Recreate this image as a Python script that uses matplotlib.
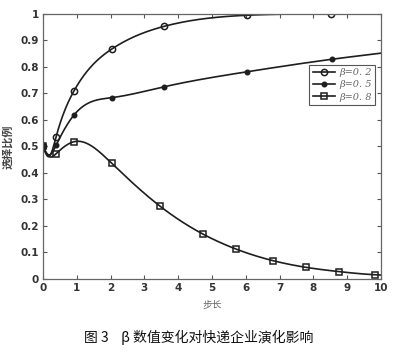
import numpy as np
import matplotlib
matplotlib.use("Agg")
import matplotlib.pyplot as plt
from matplotlib.lines import Line2D

plt.rcParams['font.family'] = ['Noto Sans CJK SC', 'DejaVu Sans']

# curve points (line), and marker positions
x02 = [0, 0.18, 0.39, 0.92, 2.03, 3.58, 6.03, 8.53, 10]
y02 = [0.5, 0.462, 0.537, 0.71, 0.867, 0.953, 0.995, 1.0, 1.0]

x05 = [0, 0.18, 0.39, 0.92, 2.03, 3.58, 6.05, 8.55, 10]
y05 = [0.5, 0.468, 0.505, 0.619, 0.684, 0.725, 0.782, 0.829, 0.852]

x08 = [0, 0.18, 0.39, 0.92, 2.03, 3.46, 4.74, 5.71, 6.81, 7.78, 8.75, 9.83, 10]
y08 = [0.5, 0.462, 0.473, 0.518, 0.437, 0.275, 0.169, 0.113, 0.069, 0.044, 0.028, 0.016, 0.015]

labels = ['β=0. 2', 'β=0. 5', 'β=0. 8']
xticks = list(range(0, 11))
yticks = [0, 0.1, 0.2, 0.3, 0.4, 0.5, 0.6, 0.7, 0.8, 0.9, 1.0]
ytick_labels = ['0', '0.1', '0.2', '0.3', '0.4', '0.5', '0.6', '0.7', '0.8', '0.9', '1']


def spline(x, y, n=500):
    # natural cubic spline through the read points (for smooth drawing only)
    x = np.asarray(x, float); y = np.asarray(y, float)
    N = len(x); h = np.diff(x)
    A = np.zeros((N, N)); b = np.zeros(N)
    A[0, 0] = 1; A[-1, -1] = 1
    for i in range(1, N - 1):
        A[i, i - 1] = h[i - 1]; A[i, i] = 2 * (h[i - 1] + h[i]); A[i, i + 1] = h[i]
        b[i] = 6 * ((y[i + 1] - y[i]) / h[i] - (y[i] - y[i - 1]) / h[i - 1])
    M = np.linalg.solve(A, b)
    xs = np.linspace(x[0], x[-1], n)
    idx = np.clip(np.searchsorted(x, xs) - 1, 0, N - 2)
    x0 = x[idx]; x1 = x[idx + 1]; hh = h[idx]
    ys = (M[idx] * (x1 - xs) ** 3 / (6 * hh) + M[idx + 1] * (xs - x0) ** 3 / (6 * hh)
          + (y[idx] / hh - M[idx] * hh / 6) * (x1 - xs)
          + (y[idx + 1] / hh - M[idx + 1] * hh / 6) * (xs - x0))
    return xs, np.minimum(ys, 1.0)


fig = plt.figure(figsize=(3.94, 3.57), dpi=100)
ax = fig.add_axes([0.109, 0.2185, 0.858, 0.7425])

lc = '#1e1e1e'
series = [(x02, y02, 'o', 'none', 4.5), (x05, y05, 'o', lc, 3.2), (x08, y08, 's', 'none', 3.8)]
handles = []
for (xx, yy, mk, mfc, ms), lab in zip(series, labels):
    xs, ys = spline(xx, yy)
    ax.plot(xs, ys, color=lc, lw=1.2)
    mx = [v for i, v in enumerate(xx) if i != 1 and v < 9.95]
    my = [yy[i] for i, v in enumerate(xx) if i != 1 and v < 9.95]
    ax.plot(mx, my, ls='none', marker=mk, mfc=mfc, mec=lc, ms=ms, mew=1.1)
    handles.append(Line2D([], [], color=lc, lw=1.2, marker=mk, mfc=mfc, mec=lc, ms=ms, mew=1.1, label=lab))

ax.set_xlim(0, 10)
ax.set_ylim(0, 1)
ax.set_xticks(xticks)
ax.set_yticks(yticks)
ax.set_yticklabels(ytick_labels)
ax.tick_params(direction='in', top=True, right=True, length=3, width=0.8, colors='#555555',
               labelsize=7.5, labelcolor='#333333', pad=3)
for lbl in ax.get_xticklabels() + ax.get_yticklabels():
    lbl.set_fontweight('bold')
    lbl.set_family('DejaVu Sans')
for s in ax.spines.values():
    s.set_color('#666666'); s.set_linewidth(0.9)

leg = ax.legend(handles=handles, loc='upper right', bbox_to_anchor=(0.992, 0.82),
                prop={'family': 'DejaVu Serif', 'style': 'italic', 'size': 7.0},
                handlelength=2.3, handletextpad=0.45, labelspacing=0.35,
                borderpad=0.35, borderaxespad=0.3, fancybox=False, edgecolor='#555555', framealpha=1)
for t in leg.get_texts():
    t.set_color('#666666')
leg.get_frame().set_linewidth(0.8)

ax.set_xlabel('步长', fontsize=7, color='#666666', labelpad=5)
ax.set_ylabel('选择比例', fontsize=8, color='#444444', labelpad=4, fontweight='bold')

fig.text(0.505, 0.056, '图 3    β 数值变化对快递企业演化影响', ha='center', va='center', fontsize=10,
         color='#111111')

fig.savefig('out.png', dpi=100)
